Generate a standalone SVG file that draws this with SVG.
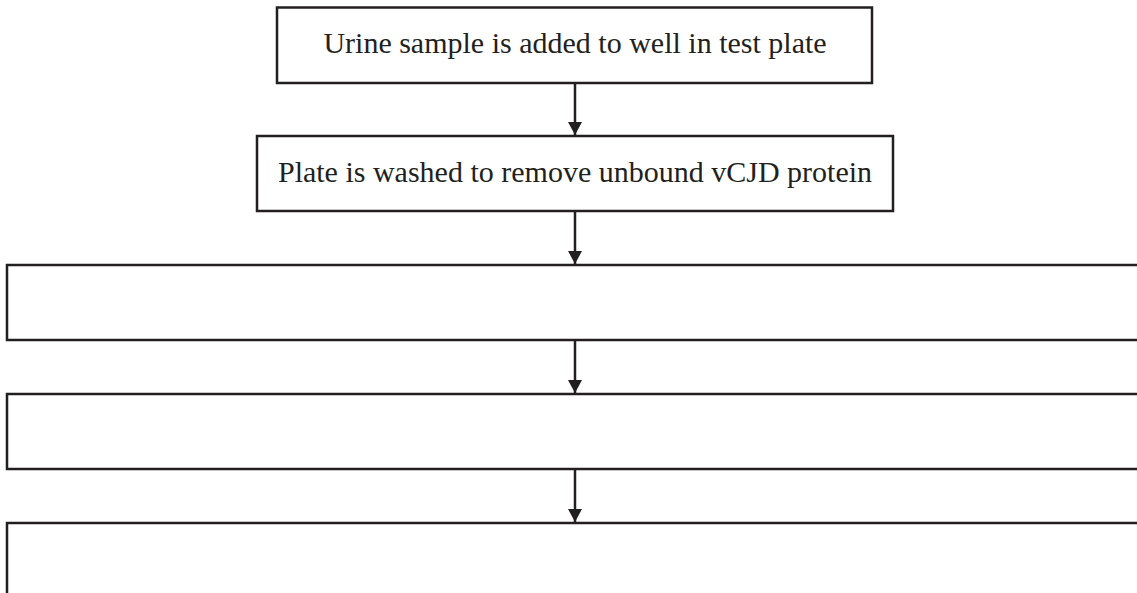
<svg xmlns="http://www.w3.org/2000/svg" width="1137" height="593" viewBox="0 0 1137 593">
<defs>
<style>
.box{fill:#ffffff;stroke:#231f20;stroke-width:2.5}
.lbl{font-family:"Liberation Serif","Times New Roman",serif;font-size:30px;fill:#231f20;text-anchor:middle}
.edge{stroke:#231f20;stroke-width:2.5;fill:none}
</style>
<marker id="ah" markerUnits="userSpaceOnUse" markerWidth="15" markerHeight="15" refX="13" refY="7" orient="auto">
<path d="M0,0 L13,7 L0,14 Z" fill="#231f20"/>
</marker>
</defs>
<rect width="1137" height="593" fill="#ffffff"/>
<g id="connectors">
<line class="edge" x1="575" y1="84" x2="575" y2="135" marker-end="url(#ah)"/>
<line class="edge" x1="575" y1="212" x2="575" y2="264" marker-end="url(#ah)"/>
<line class="edge" x1="575" y1="341" x2="575" y2="393" marker-end="url(#ah)"/>
<line class="edge" x1="575" y1="470" x2="575" y2="522" marker-end="url(#ah)"/>
</g>
<g id="node1">
<rect class="box" x="277" y="7.5" width="595" height="75.5"/>
<text class="lbl" x="575" y="53">Urine sample is added to well in test plate</text>
</g>
<g id="node2">
<rect class="box" x="257" y="136" width="636" height="75"/>
<text class="lbl" x="575" y="182">Plate is washed to remove unbound vCJD protein</text>
</g>
<g id="node3">
<rect class="box" x="7" y="265" width="1140" height="75"/>
</g>
<g id="node4">
<rect class="box" x="7" y="394" width="1140" height="75"/>
</g>
<g id="node5">
<rect class="box" x="7" y="523" width="1140" height="80"/>
</g>
</svg>
